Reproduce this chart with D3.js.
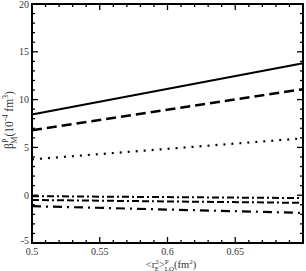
<!DOCTYPE html>
<html>
<head>
<meta charset="utf-8">
<script src="https://cdn.jsdelivr.net/npm/d3@7"></script>
<style>
  body { margin: 0; background: #fff; }
  svg text { font-family: 'Times New Roman', Times, 'Liberation Serif', serif; fill: #333; }
</style>
</head>
<body>
<script>
// Data: two end points per curve
const xValues = [0.5, 0.7]
const solidLine = [8.45, 13.8]
const dashedLine = [6.8, 11.1]
const dottedLine = [3.75, 5.95]
const dashDotTop = [-0.1, -0.3]
const dashDotMid = [-0.5, -0.8]
const dashDotLow = [-1.15, -1.85]
const xTicks = [0.5, 0.55, 0.6, 0.65]
const yTicks = [-5, 0, 5, 10, 15, 20]

const width = 306
const height = 271
const margin = { left: 32, right: 3, top: 4, bottom: 28 }

const svg = d3.select('body').append('svg')
  .attr('width', width)
  .attr('height', height)

const xScale = d3.scaleLinear()
  .domain([0.5, 0.7])
  .range([margin.left, width - margin.right])
const yScale = d3.scaleLinear()
  .domain([-5, 20])
  .range([height - margin.bottom, margin.top])

const x0 = margin.left
const x1 = width - margin.right
const y0 = height - margin.bottom
const y1 = margin.top

// Ticks inside the frame, on all four sides
const minorX = d3.range(0.5, 0.7001, 0.01)
const minorY = d3.range(-5, 20.001, 1)
const ticks = svg.append('g').attr('stroke', '#000').attr('stroke-width', 1.3)

minorX.forEach(v => {
  const major = xTicks.some(t => Math.abs(t - v) < 1e-6)
  const len = major ? 6 : 3
  const x = xScale(v)
  ticks.append('line').attr('x1', x).attr('x2', x).attr('y1', y0).attr('y2', y0 - len)
  ticks.append('line').attr('x1', x).attr('x2', x).attr('y1', y1).attr('y2', y1 + len)
})
minorY.forEach(v => {
  const r = Math.round(v)
  const major = Math.abs(v - r) < 1e-6 && r % 5 === 0
  const len = major ? 6 : 3
  const y = yScale(v)
  ticks.append('line').attr('x1', x0).attr('x2', x0 + len).attr('y1', y).attr('y2', y)
  ticks.append('line').attr('x1', x1).attr('x2', x1 - len).attr('y1', y).attr('y2', y)
})

// Tick labels
svg.selectAll('.xlabel')
  .data(xTicks)
  .enter()
  .append('text')
  .attr('x', d => xScale(d))
  .attr('y', y0 + 12)
  .attr('text-anchor', 'middle')
  .attr('font-size', 10)
  .text(d => d)

// the bottom label sits a bit higher so it clears "0.5"
svg.selectAll('.ylabel')
  .data(yTicks)
  .enter()
  .append('text')
  .attr('x', x0 - 3)
  .attr('y', d => yScale(d) + (d === -5 ? 1 : 3.5))
  .attr('text-anchor', 'end')
  .attr('font-size', 10)
  .text(d => d)

// Curves
const line = d3.line()
  .x(d => xScale(d[0]))
  .y(d => yScale(d[1]))

const curves = [
  { values: solidLine, dash: null, w: 2 },
  { values: dashedLine, dash: '10,5', w: 2.4 },
  { values: dottedLine, dash: '2,6', w: 2.2 },
  { values: dashDotTop, dash: '7,3,2,3', w: 2 },
  { values: dashDotMid, dash: '7,3,7,3,2,3', w: 2 },
  { values: dashDotLow, dash: '9,5,2,5', w: 2.2 }
]

curves.forEach(c => {
  svg.append('path')
    .datum(c.values.map((v, i) => [xValues[i], v]))
    .attr('d', line)
    .attr('fill', 'none')
    .attr('stroke', '#000')
    .attr('stroke-width', c.w)
    .attr('stroke-dasharray', c.dash)
})

// Frame
svg.append('rect')
  .attr('x', x0)
  .attr('y', y1)
  .attr('width', x1 - x0)
  .attr('height', y0 - y1)
  .attr('fill', 'none')
  .attr('stroke', '#000')
  .attr('stroke-width', 2)

// Axis titles
const xTitle = svg.append('text')
  .attr('x', 171)
  .attr('y', 268)
  .attr('text-anchor', 'middle')
  .attr('font-size', 10.5)
xTitle.append('tspan').text('<r')
xTitle.append('tspan').attr('font-size', 7).attr('dy', -4.5).text('2')
xTitle.append('tspan').attr('font-size', 7).attr('dx', -4).attr('dy', 7).text('E')
xTitle.append('tspan').attr('dy', -2.5).text('>')
xTitle.append('tspan').attr('font-size', 7).attr('dy', -4.5).text('P')
xTitle.append('tspan').attr('font-size', 7).attr('dx', -4).attr('dy', 7).text('LO')
xTitle.append('tspan').attr('dy', -2.5).text('(fm')
xTitle.append('tspan').attr('font-size', 7).attr('dy', -4.5).text('2')
xTitle.append('tspan').attr('dy', 4.5).text(')')

const yTitle = svg.append('text')
  .attr('transform', 'translate(13, 120) rotate(-90)')
  .attr('text-anchor', 'middle')
  .attr('font-size', 11.5)
yTitle.append('tspan').text('β')
yTitle.append('tspan').attr('font-size', 8).attr('dy', -5.5).text('P')
yTitle.append('tspan').attr('font-size', 8).attr('dx', -5).attr('dy', 9).text('M')
yTitle.append('tspan').attr('dy', -3.5).text('(10')
yTitle.append('tspan').attr('font-size', 8).attr('dy', -5.5).text('-4')
yTitle.append('tspan').attr('dy', 5.5).text(' fm')
yTitle.append('tspan').attr('font-size', 8).attr('dy', -5.5).text('3')
yTitle.append('tspan').attr('dy', 5.5).text(')')
</script>
</body>
</html>
